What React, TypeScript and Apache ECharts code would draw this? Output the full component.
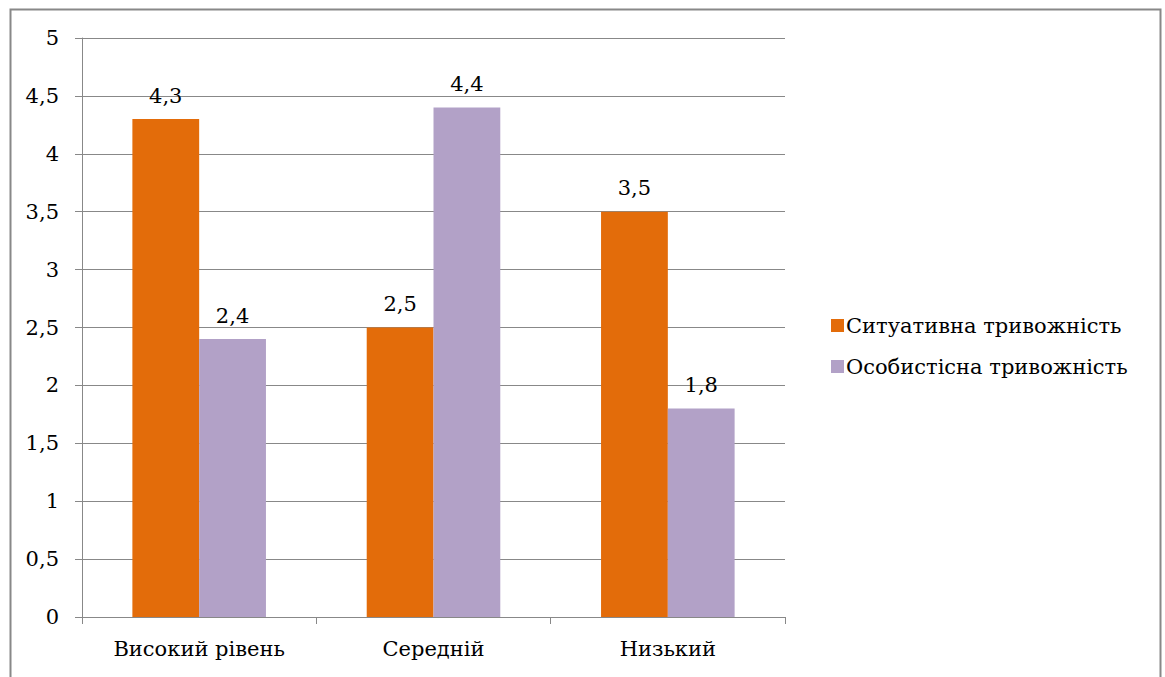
import React, { useEffect, useRef } from "react";
import * as echarts from "echarts";

const categories = ["Високий рівень", "Середній", "Низький"];
const situational = [4.3, 2.5, 3.5];
const personal = [2.4, 4.4, 1.8];
const seriesNames = ["Ситуативна тривожність", "Особистісна тривожність"];

const FONT = "DejaVu Serif";
const FS = 21;
const fmt = (v: number) => String(v).replace(".", ",");

export default function App() {
  const ref = useRef<HTMLDivElement>(null);
  useEffect(() => {
    if (!ref.current) return;
    const chart = echarts.init(ref.current, null, { renderer: "svg" });
    const labelCfg = {
      show: true,
      position: "top",
      distance: 13,
      fontFamily: FONT,
      fontSize: FS,
      color: "#000",
      formatter: (p: any) => fmt(p.value),
    };
    chart.setOption({
      animation: false,
      backgroundColor: "#ffffff",
      textStyle: { fontFamily: FONT },
      graphic: [
        {
          type: "rect",
          shape: { x: 10.5, y: 9.5, width: 1150, height: 700 },
          style: { fill: "none", stroke: "#888888", lineWidth: 2 },
          silent: true,
        },
      ],
      grid: { left: 82, top: 38, right: 380, bottom: 60, containLabel: false },
      legend: {
        orient: "vertical",
        left: 826,
        top: 310,
        itemWidth: 13,
        itemHeight: 13,
        itemGap: 20,
        icon: "rect",
        textStyle: { fontFamily: FONT, fontSize: FS, color: "#000", padding: [0, 0, 0, -3] },
        data: seriesNames,
      },
      xAxis: {
        type: "category",
        data: categories,
        axisLine: { lineStyle: { color: "#888888", width: 1 } },
        axisTick: { show: true, length: 7, lineStyle: { color: "#888888" } },
        axisLabel: { fontFamily: FONT, fontSize: FS, color: "#000", margin: 21 },
      },
      yAxis: {
        type: "value",
        min: 0,
        max: 5,
        interval: 0.5,
        axisLine: { show: true, lineStyle: { color: "#888888", width: 1 } },
        axisTick: { show: true, length: 7, lineStyle: { color: "#888888" } },
        splitLine: { show: true, lineStyle: { color: "#888888", width: 1 } },
        axisLabel: {
          fontFamily: FONT,
          fontSize: FS,
          color: "#000",
          margin: 23,
          formatter: (v: number) => fmt(v),
        },
      },
      series: [
        {
          name: seriesNames[0],
          type: "bar",
          data: situational,
          barGap: "0%",
          barCategoryGap: "43%",
          itemStyle: { color: "#E36C0A" },
          label: labelCfg,
        },
        {
          name: seriesNames[1],
          type: "bar",
          data: personal,
          barGap: "0%",
          barCategoryGap: "43%",
          itemStyle: { color: "#B2A1C7" },
          label: labelCfg,
        },
      ],
    });
    return () => chart.dispose();
  }, []);
  return (
    <div
      ref={ref}
      style={{ position: "fixed", left: 0, top: 0, width: 1165, height: 677 }}
    />
  );
}
